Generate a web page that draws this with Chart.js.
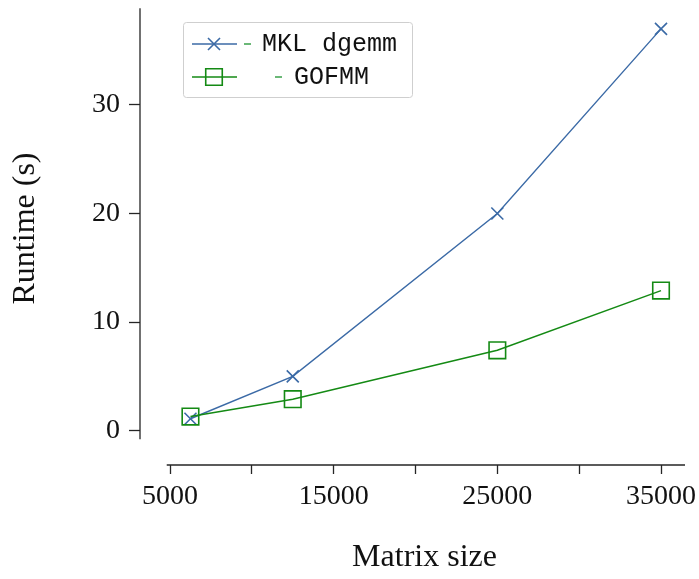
<!DOCTYPE html>
<html>
<head>
<meta charset="utf-8">
<script src="https://cdn.jsdelivr.net/npm/chart.js@4"></script>
<style>
  html, body { margin: 0; padding: 0; background: #fff; }
  canvas { display: block; }
</style>
</head>
<body>
<canvas id="runtimeChart" width="699" height="579"></canvas>
<script>
// matrix sizes and runtime in seconds
const matrixSizes = [6250, 12500, 25000, 35000];
const mklRuntime = [1.1, 5.0, 20.0, 37.0];
const gofmmRuntime = [1.3, 2.9, 7.4, 12.9];

const xTickValues = [5000, 10000, 15000, 20000, 25000, 30000, 35000];
const xTickLabels = ["5000", "", "15000", "", "25000", "", "35000"];
const yTickValues = [0, 10, 20, 30];

// visible spine extent (data units), spines are offset from the plot
const xSpan = [4800, 36466];
const ySpan = [-0.8, 38.9];

const blue = "#3b6aa6";
const green = "#148a14";
const axisColor = "#262626";
const serif = "'Liberation Serif', 'Times New Roman', serif";
const mono = "'Liberation Mono', 'DejaVu Sans Mono', monospace";

const toPoints = ys => ys.map((v, i) => ({ x: matrixSizes[i], y: v }));

// offset spines like seaborn despine(offset=...)
const spines = {
    id: "spines",
    afterDraw(chart) {
        const { ctx, chartArea, scales: { x, y } } = chart;
        ctx.save();
        ctx.strokeStyle = axisColor;
        ctx.lineWidth = 1.3;
        ctx.beginPath();
        ctx.moveTo(chartArea.left, y.getPixelForValue(ySpan[1]));
        ctx.lineTo(chartArea.left, y.getPixelForValue(ySpan[0]));
        ctx.moveTo(x.getPixelForValue(xSpan[0]), chartArea.bottom);
        ctx.lineTo(x.getPixelForValue(xSpan[1]), chartArea.bottom);
        ctx.stroke();
        ctx.restore();
    }
};

// legend with line + marker handles inside a framed box
const legendRows = [
    { y: 44, dashX: 244, textX: 262, label: "MKL dgemm" },
    { y: 77, dashX: 275, textX: 294, label: "GOFMM" }
];
const boxLegend = {
    id: "boxLegend",
    afterDraw(chart) {
        const ctx = chart.ctx;
        ctx.save();
        ctx.strokeStyle = "#cfcfcf";
        ctx.lineWidth = 1;
        ctx.beginPath();
        ctx.roundRect(183.5, 22.5, 229, 75, 3);
        ctx.stroke();

        chart.data.datasets.forEach((ds, i) => {
            const row = legendRows[i];
            ctx.strokeStyle = ds.borderColor;
            ctx.lineWidth = ds.borderWidth;
            ctx.beginPath();
            ctx.moveTo(192, row.y);
            ctx.lineTo(237, row.y);
            ctx.stroke();

            ctx.fillStyle = "rgba(0,0,0,0)";
            ctx.lineWidth = ds.pointBorderWidth;
            Chart.helpers.drawPoint(ctx, {
                pointStyle: ds.pointStyle,
                radius: ds.pointRadius,
                borderWidth: ds.pointBorderWidth,
                rotation: 0
            }, 214, row.y);

            ctx.strokeStyle = "#3aa14a";
            ctx.lineWidth = 1.5;
            ctx.beginPath();
            ctx.moveTo(row.dashX, row.y);
            ctx.lineTo(row.dashX + 7, row.y);
            ctx.stroke();

            ctx.fillStyle = "#111";
            ctx.font = "25px " + mono;
            ctx.textBaseline = "middle";
            ctx.fillText(row.label, row.textX, row.y);
        });
        ctx.restore();
    }
};

const ctx = document.getElementById("runtimeChart").getContext("2d");
new Chart(ctx, {
    type: "line",
    data: {
        datasets: [{
            label: "MKL dgemm",
            data: toPoints(mklRuntime),
            borderColor: blue,
            borderWidth: 1.4,
            pointStyle: "crossRot",
            pointRadius: 8.5,
            pointBorderWidth: 1.6,
            pointBorderColor: blue,
            pointBackgroundColor: "rgba(0,0,0,0)",
            tension: 0,
            fill: false,
            order: 1
        }, {
            label: "GOFMM",
            data: toPoints(gofmmRuntime),
            borderColor: green,
            borderWidth: 1.5,
            pointStyle: "rect",
            pointRadius: 11.7,
            pointBorderWidth: 1.6,
            pointBorderColor: green,
            pointBackgroundColor: "rgba(0,0,0,0)",
            tension: 0,
            fill: false,
            order: 0
        }]
    },
    options: {
        responsive: false,
        devicePixelRatio: 1,
        animation: false,
        clip: false,
        layout: { autoPadding: false, padding: { left: 0, top: 8, right: 14, bottom: 0 } },
        plugins: {
            legend: { display: false },
            tooltip: { enabled: false }
        },
        scales: {
            x: {
                type: "linear",
                min: 3167,
                max: 36466,
                border: { display: false },
                grid: {
                    drawOnChartArea: false,
                    drawTicks: true,
                    tickLength: 9,
                    tickWidth: 1.3,
                    tickColor: axisColor
                },
                afterBuildTicks: scale => {
                    scale.ticks = xTickValues.map(v => ({ value: v }));
                },
                afterFit: scale => {
                    scale.height = 114;
                    scale.paddingLeft = 0;
                    scale.paddingRight = 0;
                },
                ticks: {
                    autoSkip: false,
                    maxRotation: 0,
                    padding: 6,
                    color: "#111",
                    font: { family: serif, size: 28 },
                    callback: (v, i) => xTickLabels[i]
                },
                title: {
                    display: true,
                    text: "   Matrix size",
                    color: "#111",
                    font: { family: serif, size: 32 },
                    padding: { top: 0, bottom: 2 }
                }
            },
            y: {
                type: "linear",
                min: -3.16,
                max: 38.92,
                border: { display: false },
                grid: {
                    drawOnChartArea: false,
                    drawTicks: true,
                    tickLength: 11,
                    tickWidth: 1.3,
                    tickColor: axisColor
                },
                afterBuildTicks: scale => {
                    scale.ticks = yTickValues.map(v => ({ value: v }));
                },
                afterFit: scale => {
                    scale.width = 140;
                    scale.paddingTop = 0;
                    scale.paddingBottom = 0;
                },
                ticks: {
                    padding: 9,
                    color: "#111",
                    font: { family: serif, size: 28 },
                    callback: v => String(v)
                },
                title: {
                    display: true,
                    text: "  Runtime (s)",
                    color: "#111",
                    font: { family: serif, size: 32 },
                    padding: { top: 6, bottom: 0 }
                }
            }
        }
    },
    plugins: [spines, boxLegend]
});
</script>
</body>
</html>
